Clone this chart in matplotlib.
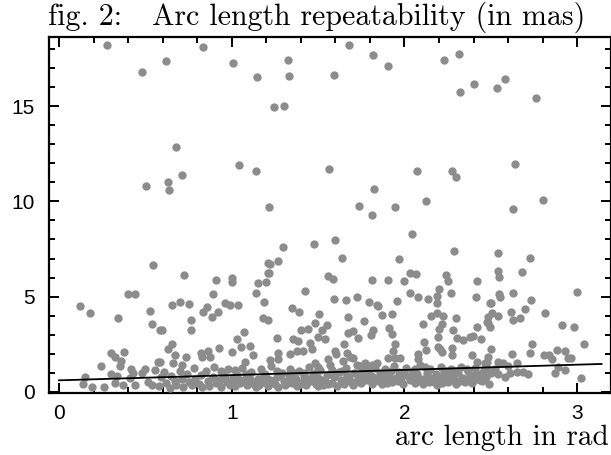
# Arc length repeatability scatter (fig. 2)
import matplotlib
matplotlib.use('Agg')
import matplotlib.pyplot as plt
from matplotlib.ticker import MultipleLocator

plt.rcParams['font.family'] = ['Liberation Sans', 'DejaVu Sans']

# --- data --------------------------------------------------------------
# sparse upper points (rad, mas)
high_x = [0.28, 0.832, 0.62, 0.479, 0.676, 0.714, 0.502, 0.629, 0.635, 1.009,
          1.148, 1.328, 1.334, 1.591, 1.677, 1.816, 1.905, 1.243, 1.303, 1.044,
          1.142, 1.562, 2.075, 1.826, 1.214, 1.737, 1.814, 1.944, 2.318, 2.231,
          2.405, 2.320, 2.536, 2.584, 2.762, 2.277, 2.299, 2.640, 2.125, 2.802,
          2.629]
high_y = [18.21, 18.08, 17.34, 16.80, 12.83, 11.39, 10.83, 11.01, 10.58, 17.24,
          16.52, 17.41, 16.59, 16.62, 18.21, 17.69, 17.08, 14.93, 14.98, 11.90,
          11.57, 11.71, 11.60, 10.66, 9.69, 9.77, 9.28, 9.70, 17.72, 17.43,
          16.14, 15.72, 15.93, 16.43, 15.40, 11.57, 11.27, 11.96, 10.03, 10.07,
          9.58]

# mid-range points (1.5 .. 9 mas)
mid_x = [0.546, 0.398, 0.44, 0.122, 0.18, 0.343, 0.529, 0.538, 0.585, 0.376,
         0.301, 0.324, 0.359, 0.355, 0.241, 0.575, 0.726, 0.907, 1.004, 1.004,
         0.893, 0.656, 0.702, 0.751, 0.855, 0.836, 0.884, 0.922, 0.961, 0.99,
         1.035, 0.763, 0.763, 0.595, 1.141, 1.154, 1.199, 1.212, 1.212, 1.187,
         1.183, 1.208, 1.073, 1.029, 0.656, 0.633, 0.672, 0.734, 0.82, 0.865,
         0.874, 0.826, 0.928, 1.0, 1.054, 1.106, 1.125, 1.077, 0.585, 0.662,
         0.71, 1.299, 1.477, 1.596, 1.641, 1.27, 1.22, 1.216, 1.559, 1.585,
         1.811, 1.424, 1.592, 1.664, 1.727, 1.797, 1.84, 1.347, 1.39, 1.505,
         1.482, 1.672, 1.767, 1.552, 1.525, 1.401, 1.44, 1.502, 1.541, 1.264,
         1.357, 1.386, 1.454, 1.463, 1.675, 1.704, 1.733, 1.82, 1.807, 1.65,
         1.598, 1.602, 1.338, 1.376, 1.415, 1.266, 1.27, 1.222, 1.559, 1.666,
         1.685, 1.704, 1.646, 1.724, 1.772, 1.811, 1.84, 1.482, 1.502, 2.044,
         1.969, 2.285, 2.032, 2.067, 1.903, 1.996, 2.239, 2.251, 2.419, 2.2,
         2.031, 2.077, 2.135, 2.189, 2.189, 2.27, 2.415, 2.496, 1.959, 1.845,
         1.868, 1.926, 2.154, 2.187, 2.225, 2.297, 2.109, 2.216, 1.913, 1.926,
         2.2, 2.196, 2.283, 2.419, 2.486, 2.303, 2.341, 2.38, 2.399, 2.444,
         2.113, 1.946, 2.193, 2.206, 2.123, 2.277, 2.081, 2.077, 1.936, 1.946,
         1.907, 1.975, 2.274, 2.216, 2.39, 2.486, 2.419, 2.467, 2.544, 2.729,
         2.54, 2.548, 2.681, 2.998, 2.55, 2.554, 2.629, 2.735, 2.501, 2.70,
         2.617, 2.816, 2.505, 2.544, 2.486, 2.476, 2.496, 2.631, 2.669, 2.911,
         2.984, 3.04, 2.741, 2.501, 2.727, 2.625, 2.81, 2.837, 2.853, 2.885,
         2.93, 2.949, 2.965, 2.476, 2.544, 2.573, 2.602, 2.654]
mid_y = [6.68, 5.14, 5.14, 4.53, 4.13, 3.90, 4.25, 3.58, 3.25, 2.11,
         2.03, 1.84, 1.64, 1.35, 1.35, 1.57, 6.12, 5.87, 5.96, 5.75,
         5.14, 4.55, 4.74, 4.63, 4.44, 4.18, 3.95, 4.21, 4.68, 4.56,
         4.58, 3.78, 3.24, 3.25, 5.18, 5.70, 5.75, 6.22, 6.75, 4.74,
         3.86, 3.78, 3.16, 2.78, 2.53, 2.25, 1.94, 1.82, 2.06, 2.17,
         1.85, 1.85, 2.29, 2.08, 2.38, 2.41, 1.94, 1.59, 1.59, 1.50,
         1.42, 7.59, 7.75, 7.95, 7.04, 6.89, 6.73, 6.26, 6.08, 5.93,
         5.87, 5.31, 4.88, 4.81, 4.98, 4.74, 4.56, 4.40, 4.18, 4.09,
         3.63, 3.92, 3.71, 3.53, 3.25, 3.27, 3.29, 2.90, 2.76, 2.82,
         2.78, 2.67, 2.55, 2.24, 3.08, 3.21, 2.82, 3.25, 2.99, 2.50,
         2.17, 1.99, 1.99, 2.15, 2.15, 2.03, 1.71, 1.68, 1.71, 2.03,
         1.85, 1.77, 1.63, 1.42, 1.50, 1.42, 1.54, 1.54, 1.33, 8.27,
         6.99, 7.41, 6.26, 6.20, 5.87, 5.84, 6.15, 5.84, 5.84, 5.40,
         5.21, 5.00, 4.88, 5.03, 4.65, 5.21, 5.00, 4.65, 4.77, 4.51,
         4.04, 4.09, 3.99, 4.16, 4.00, 3.86, 3.55, 3.55, 3.37, 3.03,
         3.29, 2.90, 3.25, 3.42, 3.60, 2.82, 2.73, 2.90, 2.94, 2.78,
         2.61, 2.50, 2.38, 2.24, 2.20, 2.29, 1.98, 1.71, 2.17, 1.77,
         1.77, 1.77, 1.94, 2.11, 1.94, 1.85, 1.59, 1.54, 7.27, 7.03,
         6.36, 6.01, 6.28, 5.26, 5.12, 5.00, 5.19, 4.82, 4.68, 4.34,
         4.21, 4.13, 4.16, 3.99, 3.92, 3.69, 3.39, 3.78, 3.86, 3.53,
         3.39, 2.53, 2.50, 2.27, 2.06, 1.98, 1.94, 1.92, 1.71, 2.20,
         2.15, 1.80, 1.80, 1.59, 1.59, 1.50, 1.36, 1.54]

# dense band near the fitted line (below ~1.5 mas)
band_x = [0.15, 0.137, 0.189, 0.262, 0.301, 0.334, 0.324, 0.372, 0.417, 0.43,
          0.411, 0.44, 0.479, 0.498, 0.517, 0.556, 0.537,
          0.58, 0.59, 0.61, 0.62, 0.64, 0.65, 0.67, 0.68, 0.70, 0.71,
          0.72, 0.74, 0.75, 0.77, 0.78, 0.79, 0.81, 0.82, 0.83, 0.85,
          0.86, 0.87, 0.89, 0.90, 0.91, 0.93, 0.94, 0.95, 0.97, 0.98,
          0.99, 1.01, 1.02, 1.03, 1.05, 1.06, 1.07, 1.09, 1.10, 1.11,
          1.13, 1.14, 1.15, 1.17, 1.18, 1.19, 1.21, 1.22, 1.23, 1.25,
          1.26, 1.27, 1.29, 1.30, 1.31, 1.33, 1.34, 1.35, 1.37, 1.38,
          1.39, 1.41, 1.42, 1.43, 1.45, 1.46, 1.47, 1.49, 1.50, 1.51,
          1.53, 1.54, 1.55, 1.57, 1.58, 1.59, 1.61, 1.62, 1.63, 1.65,
          1.66, 1.67, 1.69, 1.70, 1.71, 1.73, 1.74, 1.75, 1.77, 1.78,
          1.79, 1.81, 1.82, 1.83, 1.85, 1.86, 1.87, 1.89, 1.90, 1.91,
          1.93, 1.94, 1.95, 1.97, 1.98, 1.99, 2.01, 2.02, 2.03, 2.05,
          2.06, 2.07, 2.09, 2.10, 2.11, 2.13, 2.14, 2.15, 2.17, 2.18,
          2.19, 2.21, 2.22, 2.23, 2.25, 2.26, 2.27, 2.29, 2.30, 2.31,
          2.33, 2.34, 2.35, 2.37, 2.38, 2.39, 2.41, 2.42, 2.43, 2.45,
          2.46, 2.47, 2.49, 2.50,
          0.92, 0.96, 1.00, 1.04, 1.08, 1.12, 1.16, 1.20, 1.24, 1.28,
          1.32, 1.36, 1.40, 1.44, 1.48, 1.52, 1.56, 1.60, 1.64, 1.68,
          1.72, 1.76, 1.80, 1.84, 1.88, 1.92, 1.96, 2.00, 2.04, 2.08,
          2.12, 2.16, 2.20, 2.24, 2.28, 2.32, 2.36, 2.40, 2.44, 2.48,
          0.94, 1.02, 1.10, 1.18, 1.26, 1.34, 1.42, 1.50, 1.58, 1.66,
          1.74, 1.82, 1.90, 1.98, 2.06, 2.14, 2.22, 2.30, 2.38, 2.46,
          2.525, 2.544, 2.583, 2.611, 2.65, 2.689, 2.714, 2.872, 2.888, 2.93,
          3.021]
band_y = [0.80, 0.42, 0.25, 0.28, 0.94, 0.86, 0.45, 0.37, 1.19, 0.98,
          0.72, 0.37, 0.98, 1.19, 0.54, 1.15, 0.37,
          0.32, 0.78, 1.05, 0.48, 0.22, 0.85, 0.60, 0.38, 1.12, 0.70,
          0.28, 0.92, 0.50, 0.35, 1.25, 0.66, 0.42, 0.88, 0.25, 1.08,
          0.55, 0.33, 0.76, 1.32, 0.45, 0.62, 0.28, 0.98, 0.52, 1.18,
          0.36, 0.72, 0.30, 0.90, 0.48, 1.28, 0.65, 0.34, 0.84, 1.05,
          0.42, 0.26, 0.70, 1.20, 0.50, 0.95, 0.32, 0.62, 1.38, 0.44,
          0.80, 0.28, 1.02, 0.56, 0.38, 0.88, 1.22, 0.46, 0.68, 0.30,
          1.10, 0.52, 0.82, 0.36, 1.30, 0.60, 0.94, 0.40, 0.72, 1.16,
          0.34, 0.58, 0.90, 1.40, 0.48, 0.76, 0.32, 1.06, 0.64, 0.42,
          1.24, 0.86, 0.54, 0.36, 1.00, 0.70, 1.34, 0.46, 0.88, 0.62,
          1.14, 0.40, 0.78, 1.28, 0.56, 0.98, 0.44, 1.20, 0.68, 0.90,
          0.50, 1.36, 0.74, 1.04, 0.58, 0.40, 1.26, 0.82, 0.62, 1.10,
          0.48, 0.94, 1.40, 0.66, 0.42, 1.02, 0.78, 1.22, 0.54, 0.92,
          0.38, 1.32, 0.70, 1.06, 0.50, 0.86, 1.18, 0.60, 0.42, 0.98,
          1.30, 0.72, 0.52, 1.08, 0.84, 0.46, 1.24, 0.66, 0.96, 0.56,
          1.14, 0.80, 0.44, 1.02,
          0.55, 0.80, 0.45, 0.62, 0.95, 0.55, 0.38, 0.78, 0.58, 0.90,
          0.48, 0.98, 0.40, 0.70, 1.02, 0.64, 0.44, 0.92, 1.12, 0.68,
          0.50, 1.18, 0.90, 0.70, 0.82, 1.10, 0.56, 0.94, 0.72, 0.56,
          1.30, 0.64, 0.80, 1.12, 0.86, 0.58, 1.20, 0.90, 0.62, 1.26,
          1.08, 1.15, 0.46, 0.72, 1.12, 0.64, 1.00, 0.30, 1.15, 0.60,
          0.88, 0.52, 0.46, 0.80, 1.20, 0.52, 0.46, 1.10, 0.60, 0.70,
          1.19, 0.94, 0.80, 1.01, 1.06, 1.06, 0.94, 0.98, 1.33, 1.15,
          0.72]

# fitted line
fit_x = [0.0, 3.14159]
fit_y = [0.61, 1.47]

# --- figure ---------------------------------------------------------------
fig = plt.figure(figsize=(6.11, 4.55), dpi=100, facecolor='white')
ax = fig.add_axes([0.0802, 0.1356, 0.9198, 0.7831])

dot = dict(s=36, color='#8c8c8c', linewidths=0, zorder=3)
ax.scatter(band_x, band_y, **dot)
ax.scatter(mid_x, mid_y, **dot)
ax.scatter(high_x, high_y, **dot)
ax.plot(fit_x, fit_y, color='black', lw=1.3, zorder=4)

ax.set_xlim(-0.058, 3.196)
ax.set_ylim(-0.07, 18.62)

# ticks inward on every side
ax.xaxis.set_major_locator(MultipleLocator(1))
ax.xaxis.set_minor_locator(MultipleLocator(0.2))
ax.yaxis.set_major_locator(MultipleLocator(5))
ax.yaxis.set_minor_locator(MultipleLocator(1))
ax.tick_params(which='both', direction='in', top=True, right=True,
               width=1.4, colors='black')
ax.tick_params(which='major', length=7, labelsize=15)
ax.tick_params(which='minor', length=4)
ax.tick_params(axis='x', which='major', pad=8)
ax.tick_params(axis='y', which='major', pad=10)
for sp in ax.spines.values():
    sp.set_linewidth(1.6)

# title and axis label in a TeX-like serif
fig.text(0.518, 0.997, 'fig. 2:   Arc length repeatability (in mas)',
         family='cmr10', fontsize=21.5, ha='center', va='top')
fig.text(0.997, 0.008, 'arc length in rad',
         family='cmr10', fontsize=21, ha='right', va='bottom')

plt.savefig('out.png', dpi=100, facecolor='white')
